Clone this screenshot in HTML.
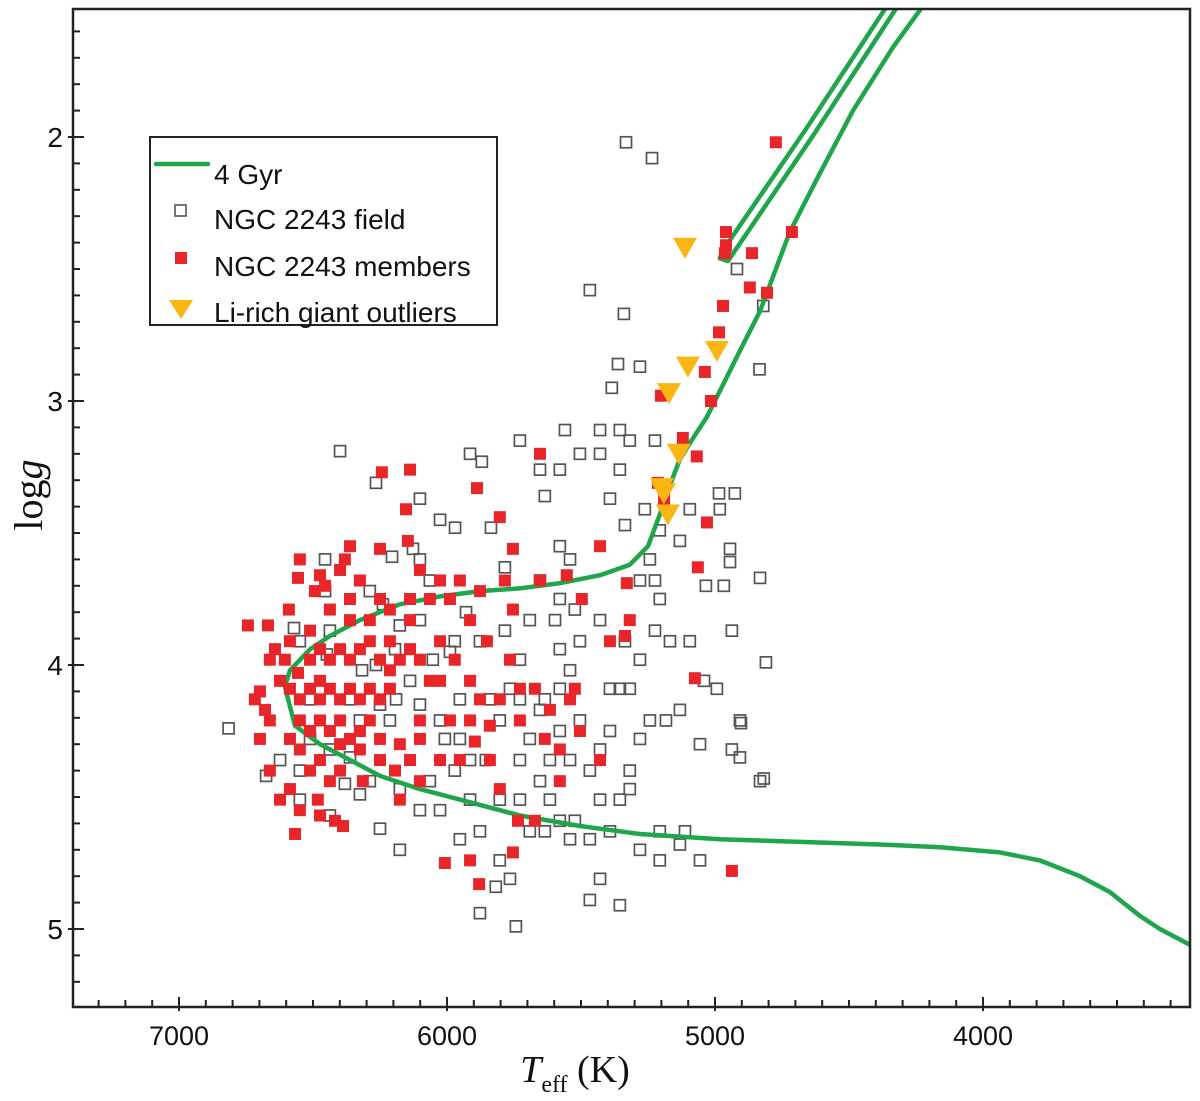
<!DOCTYPE html>
<html><head><meta charset="utf-8"><style>
html,body{margin:0;padding:0;background:#fff;}
svg{display:block;}
</style></head><body>
<svg id="chart" width="1200" height="1101" viewBox="0 0 1200 1101" xmlns="http://www.w3.org/2000/svg">
<defs><clipPath id="plotclip"><rect x="73" y="9" width="1117" height="998"/></clipPath></defs>
<g id="marks" clip-path="url(#plotclip)"></g>
<rect x="73" y="9" width="1117" height="998" fill="none" stroke="#222" stroke-width="2.5"/>
<g id="axes"></g>
<text x="42" y="495" transform="rotate(-90 42 495)" text-anchor="middle" font-family="Liberation Serif, serif" font-size="40" fill="#111">log<tspan font-style="italic">g</tspan></text>
<text x="575" y="1082" text-anchor="middle" font-family="Liberation Serif, serif" font-size="38" fill="#111"><tspan font-style="italic">T</tspan><tspan font-size="24" dy="10">eff</tspan><tspan dy="-10"> (K)</tspan></text>
<g>
<rect x="150" y="137" width="347" height="188" fill="#fff" stroke="#222" stroke-width="2"/>
<line x1="156" y1="164" x2="208" y2="164" stroke="#1fa64a" stroke-width="4.5" stroke-linecap="round"/>
<text x="214" y="184" font-family="Liberation Sans, sans-serif" font-size="28" fill="#111">4 Gyr</text>
<rect x="175" y="205" width="11" height="11" fill="none" stroke="#555" stroke-width="1.6"/>
<text x="214" y="229" font-family="Liberation Sans, sans-serif" font-size="28" fill="#111">NGC 2243 field</text>
<rect x="175" y="252" width="12" height="12" fill="#e8262a"/>
<text x="214" y="276" font-family="Liberation Sans, sans-serif" font-size="28" fill="#111">NGC 2243 members</text>
<path d="M169 300 L193 300 L181 319 Z" fill="#fbb614"/>
<text x="214" y="322" font-family="Liberation Sans, sans-serif" font-size="28" fill="#111">Li-rich giant outliers</text>
</g>
</svg>
<script>
const xTicks = [7000, 6000, 5000, 4000];
const yTicks = [2, 3, 4, 5];
const isoMainT = [3228,3340,3415,3527,3638,3788,3937,4161,4385,4683,4982,5280,5504,5728,5952,6101,6250,6362,6474,6567,6593,6605,6586,6511,6437,6325,6176,6026,5877,5728,5579,5429,5318,5250,5206,5176,5131,5075,5030,4907,4832,4721,4620,4485,4336,4236,4198];
const isoMainG = [5.06,5.00,4.95,4.86,4.80,4.74,4.71,4.69,4.68,4.67,4.66,4.64,4.61,4.57,4.51,4.47,4.42,4.36,4.30,4.23,4.13,4.08,4.02,3.94,3.89,3.83,3.77,3.74,3.72,3.71,3.69,3.66,3.62,3.55,3.43,3.34,3.22,3.13,3.06,2.81,2.66,2.36,2.16,1.90,1.66,1.52,1.46];
const isoBranchT = [4290,4631,4952,4982,4971,4661,4330];
const isoBranchG = [1.46,1.99,2.47,2.46,2.43,1.97,1.46];
const fieldT = [6815,6675,6399,6265,6205,6239,6288,6265,6127,6064,5970,5914,5870,5836,5784,5929,5877,5989,6053,6101,6026,5952,5914,5840,5803,5765,5728,5691,5653,5728,5653,5635,5579,5541,5579,5523,5504,5541,5579,5653,5691,5728,5653,5616,5579,5541,5467,5429,5392,5429,5355,5318,5280,5243,5318,5280,5336,5392,5504,5541,5429,5355,5183,5131,5056,5094,5206,5224,5280,5243,5392,5355,5429,5504,5579,5560,5429,5355,5318,5385,5280,5224,5336,5262,5206,5131,5094,4982,4944,4926,4832,4907,4907,4832,5112,5056,5206,5318,5467,5616,5914,5877,5952,5803,5765,5877,5743,5818,6064,6176,6250,6325,6362,6437,6511,6549,6623,6511,6437,6455,6571,6455,6101,6101,6026,6176,6138,6101,6008,5971,5855,6549,6448,6362,6250,6325,6317,6213,6176,6101,6026,5803,5728,5691,5635,5523,5467,5392,5280,5206,5131,5467,5340,5362,5332,5235,5034,4967,4937,4810,4903,4937,4818,4985,4944,5041,5579,5597,5635,5728,5784,5952,5971,6194,6190,6288,6381,6437,6549,5355,4993,5429,5579,5224,5168,4918,4820,4834];
const fieldG = [4.24,4.42,3.19,3.31,3.59,3.77,3.72,4.00,3.56,3.68,3.48,3.20,3.23,3.48,3.63,3.80,3.91,3.95,3.98,4.15,4.21,4.28,4.36,4.13,4.21,4.09,3.98,3.83,3.68,3.15,3.26,3.36,3.55,3.60,3.75,3.79,3.91,4.02,4.09,4.17,4.28,4.36,4.44,4.51,4.59,4.66,4.40,4.32,4.25,4.51,4.51,4.40,4.28,4.21,4.09,3.98,3.91,4.09,4.21,4.36,4.81,4.91,4.21,4.17,4.30,3.91,3.75,3.68,3.68,3.60,3.37,3.26,3.20,3.20,3.26,3.11,3.11,3.11,3.15,2.95,2.87,3.15,3.47,3.41,3.49,3.53,3.41,3.41,3.61,3.35,3.67,4.21,4.35,4.44,4.63,4.74,4.74,4.47,4.89,4.36,4.51,4.63,4.66,4.74,4.81,4.94,4.99,4.84,4.44,4.70,4.62,4.49,4.35,4.32,4.28,4.40,4.36,4.13,3.87,3.72,3.86,3.60,3.37,3.60,3.45,3.85,4.06,3.83,4.28,4.40,4.36,3.91,3.96,4.13,4.15,4.21,4.02,4.21,4.47,4.55,4.55,4.51,4.51,4.63,4.63,4.59,4.66,4.63,4.70,4.63,4.68,2.58,2.67,2.86,2.02,2.08,3.70,3.70,3.87,3.99,4.22,4.32,4.43,3.35,3.56,4.06,3.94,3.83,4.13,4.13,3.87,4.13,3.91,3.94,4.13,4.44,4.45,4.57,4.51,4.09,4.09,3.83,4.25,3.87,3.91,2.50,2.64,2.88];
const memberT = [4773,4959,4959,4713,4963,4862,4806,4870,4970,4985,5038,5015,5120,5068,5030,5064,5075,4937,5202,5213,5190,5653,5888,6138,6153,6243,6146,5803,5754,5429,5329,5553,5653,5754,5851,5914,5989,6064,6138,6213,6250,6325,6399,6474,6549,6455,6556,6590,6668,6743,6698,6661,6623,6661,6698,6661,6567,6482,6474,6418,6388,6399,6314,6250,6176,6101,6064,6026,5989,5952,5840,5803,5735,5672,5579,5541,5504,5429,5392,5318,5616,5672,5728,5765,5877,5914,6138,6176,6008,5754,5896,5840,6556,6511,6474,6437,6399,6362,6325,6288,6250,6213,6176,6138,6101,6549,6511,6474,6437,6399,6362,6325,6288,6250,6213,6549,6511,6474,6437,6399,6362,6325,6288,6586,6549,6474,6399,6325,6250,6586,6605,6586,6511,6437,6362,6493,6362,6288,6213,6138,6026,5971,5914,6026,6101,6194,6437,6511,6586,6623,6549,6474,6642,6717,6679,6101,5803,5728,5635,5579,5523,5336,5497,5914,6381,6362,6250,6101,6026,5952,5877,5784,5880];
const memberG = [2.02,2.36,2.41,2.36,2.44,2.44,2.59,2.57,2.64,2.74,2.89,3.00,3.14,3.21,3.46,3.63,4.05,4.78,2.98,3.31,3.37,3.20,3.33,3.26,3.41,3.27,3.53,3.44,3.56,3.55,3.69,3.66,3.68,3.79,3.91,3.83,3.75,3.75,3.83,3.91,3.75,3.68,3.64,3.66,3.60,3.70,3.67,3.79,3.85,3.85,4.10,3.98,4.06,4.21,4.28,4.40,4.64,4.51,4.57,4.59,4.61,4.40,4.44,4.28,4.30,4.21,4.06,4.06,4.21,4.36,4.36,4.47,4.59,4.59,4.44,4.13,4.25,4.36,3.91,3.83,4.17,4.09,4.09,3.98,4.13,4.06,4.36,4.51,4.75,4.71,4.29,4.23,4.03,3.98,3.94,3.98,3.94,3.98,3.94,3.91,3.98,4.02,3.98,3.94,3.98,4.13,4.09,4.13,4.09,4.13,4.09,4.13,4.09,4.13,4.09,4.21,4.25,4.21,4.25,4.21,4.28,4.25,4.21,4.28,4.32,4.36,4.30,4.32,4.36,4.09,3.98,3.91,3.87,3.79,3.83,3.72,3.75,3.83,3.79,3.75,3.91,3.98,4.21,4.36,4.44,4.40,4.44,4.40,4.47,4.51,4.55,4.06,3.94,4.13,4.17,4.28,4.13,4.21,4.28,4.32,4.09,3.89,3.75,4.74,3.60,3.55,3.56,3.64,3.68,3.68,3.72,3.68,4.83];
const liRichT = [5112,4993,5101,5172,5135,5198,5191,5176];
const liRichG = [2.42,2.81,2.87,2.97,3.20,3.33,3.35,3.43];

const NS = 'http://www.w3.org/2000/svg';
const X0 = 179, PXK = 0.268;
const Y0 = 137, PXG = 264;
function sx(t){ return X0 + (7000 - t) * PXK; }
function sy(g){ return Y0 + (g - 2) * PXG; }
const marks = document.getElementById('marks');
const axes = document.getElementById('axes');

function mk(tag, attrs, parent){
  const e = document.createElementNS(NS, tag);
  for (const k in attrs) e.setAttribute(k, attrs[k]);
  parent.appendChild(e);
  return e;
}

for (let t = 7300; t >= 3300; t -= 100) {
  const x = sx(t);
  const major = (t % 1000 === 0);
  const tk = mk('line', {x1:x, x2:x, y1: major ? 1011 : 1007, y2: major ? 997 : 1000, stroke:'#222', 'stroke-width':2}, axes);
  
  
}
xTicks.forEach(t => {
  const lb = mk('text', {x:sx(t), y:1045, 'text-anchor':'middle', 'font-family':'Liberation Sans, sans-serif', 'font-size':27, fill:'#111'}, axes);
  lb.textContent = t;
  
  
});
for (let i = 16; i <= 52; i++) {
  const g = i / 10;
  const y = sy(g);
  const major = (i % 10 === 0);
  const tk = mk('line', {x1: major ? 68 : 73, x2: major ? 84 : 80, y1:y, y2:y, stroke:'#222', 'stroke-width':2}, axes);
  
  
}
yTicks.forEach(g => {
  const lb = mk('text', {x:63, y:sy(g)+10, 'text-anchor':'end', 'font-family':'Liberation Sans, sans-serif', 'font-size':28, fill:'#111'}, axes);
  lb.textContent = g;
  
  
});

fieldT.forEach((t, i) => {
  const r = mk('rect', {x:sx(t)-5.5, y:sy(fieldG[i])-5.5, width:11, height:11, fill:'none', stroke:'#555', 'stroke-width':1.7}, marks);
  
  
});

function pathFrom(T, G){ return T.map((t,i)=> (i?'L':'M') + sx(t).toFixed(1) + ' ' + sy(G[i]).toFixed(1)).join(' '); }
const iso1 = mk('path', {d: pathFrom(isoMainT, isoMainG), fill:'none', stroke:'#1fa64a', 'stroke-width':4.5, 'stroke-linejoin':'round'}, marks);


const iso2 = mk('path', {d: pathFrom(isoBranchT, isoBranchG), fill:'none', stroke:'#1fa64a', 'stroke-width':4.5, 'stroke-linejoin':'round'}, marks);



memberT.forEach((t, i) => {
  const r = mk('rect', {x:sx(t)-6, y:sy(memberG[i])-6, width:12, height:12, fill:'#e8262a'}, marks);
  
  
});

liRichT.forEach((t, i) => {
  const x = sx(t), y = sy(liRichG[i]);
  const p = mk('path', {d:`M${x-12} ${y-10} L${x+12} ${y-10} L${x} ${y+11} Z`, fill:'#fbb614'}, marks);
  
  
});
</script>
</body></html>
